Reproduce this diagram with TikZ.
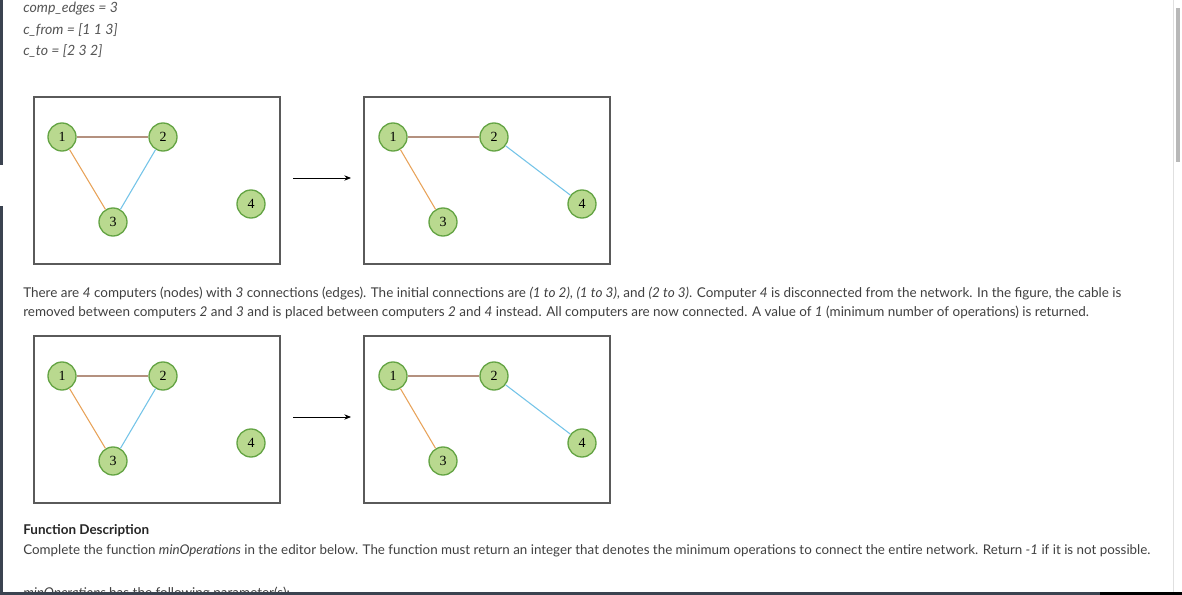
\documentclass[tikz,border=0pt]{standalone}
\usepackage{fontspec}
\setmainfont{Lato}
\newfontfamily\numfont{Liberation Serif}
\usetikzlibrary{arrows.meta}
\definecolor{txt}{HTML}{404040}
\definecolor{hdr}{HTML}{555555}
\definecolor{nfill}{HTML}{B9D98F}
\definecolor{nborder}{HTML}{64A444}
\definecolor{ebrown}{HTML}{B4917F}
\definecolor{eorange}{HTML}{E8A35A}
\definecolor{eblue}{HTML}{74C4E8}
\definecolor{boxc}{HTML}{5A5A5A}
\definecolor{darkbar}{HTML}{3B4350}
\tikzset{
  vtx/.style={circle,draw=nborder,fill=nfill,line width=1pt,minimum size=21pt,inner sep=0pt,font=\numfont\fontsize{10.5}{12}\selectfont,text=black},
  frame/.style={draw=boxc,line width=1.1pt},
  eb/.style={draw=ebrown,line width=0.8pt},
  eo/.style={draw=eorange,line width=0.8pt},
  eu/.style={draw=eblue,line width=0.8pt},
  para/.style={anchor=base west,inner sep=0pt,text=txt,font=\fontsize{10.1}{12}\selectfont},
  hline/.style={anchor=base west,inner sep=0pt,text=hdr,font=\itshape\fontsize{10.6}{12}\selectfont},
  arr/.style={-{Stealth[length=5pt,width=4pt]},line width=0.6pt,black}
}
\begin{document}
\begin{tikzpicture}[x=0.75pt,y=-0.75pt]
\useasboundingbox (0,0) rectangle (1182,595);
\fill[white] (0,0) rectangle (1182,595);
% right border and scrollbar
\draw[draw=black!12,line width=0.6pt] (1173,0) -- (1173,592);
\fill[black!28] (1176,8) rectangle (1180,162);
% header
\node[hline] (h1) at (23,13) {comp\_edges = 3};
\node[hline] (h2) at (23,35) {c\_from = [1 1 3]};
\node[hline] (h3) at (23,56) {c\_to = [2 3 2]};

% figures
\foreach \dy/\nm in {0/a,239/b}{
  \begin{scope}[yshift=-\dy*0.75pt]
  \draw[frame] (34,97) rectangle (280,264);
  \draw[frame] (364,97) rectangle (610,264);
  \node[vtx] (\nm1) at (62,137) {1};
  \node[vtx] (\nm2) at (163,137) {2};
  \node[vtx] (\nm3) at (113,222) {3};
  \node[vtx] (\nm4) at (251,204) {4};
  \node[vtx] (\nm5) at (393,137) {1};
  \node[vtx] (\nm6) at (494,137) {2};
  \node[vtx] (\nm7) at (443,222) {3};
  \node[vtx] (\nm8) at (582,204) {4};
  \coordinate (\nm s) at (293,178);
  \coordinate (\nm e) at (351,178);
  \draw[arr] (\nm s) -- (\nm e);
  \end{scope}
}
\foreach \nm in {a,b}{
  \draw[eb] (\nm1) -- (\nm2);
  \draw[eo] (\nm1) -- (\nm3);
  \draw[eu] (\nm2) -- (\nm3);
  \draw[eb] (\nm5) -- (\nm6);
  \draw[eo] (\nm5) -- (\nm7);
  \draw[eu] (\nm6) -- (\nm8);
}

% paragraph
\node[para] (p1) at (23,298) {There are \textit{4} computers (nodes) with \textit{3} connections (edges). The initial connections are \textit{(1 to 2)}, \textit{(1 to 3)}, and \textit{(2 to 3)}. Computer \textit{4} is disconnected from the network. In the figure, the cable is};
\node[para] (p2) at (23,317) {removed between computers \textit{2} and \textit{3} and is placed between computers \textit{2} and \textit{4} instead. All computers are now connected. A value of \textit{1} (minimum number of operations) is returned.};

\node[para,font=\bfseries\fontsize{10.1}{12}\selectfont,text=black!85] (fd) at (23,534) {Function Description};
\node[para,font=\fontsize{10.03}{12}\selectfont] (fd2) at (23,554) {Complete the function \textit{minOperations} in the editor below. The function must return an integer that denotes the minimum operations to connect the entire network. Return \textit{-1} if it is not possible.};
\begin{scope}
\clip (0,0) rectangle (1182,592);
\node[para] (cut) at (23,597) {\textit{minOperations} has the following parameter(s):};
\end{scope}

% window edges
\fill[darkbar] (0,592) rectangle (1182,595);
\fill[black] (1100,592) rectangle (1182,595);
\fill[darkbar] (0,0) rectangle (2.5,165);
\fill[darkbar] (0,206) rectangle (2.5,595);
\end{tikzpicture}
\end{document}
